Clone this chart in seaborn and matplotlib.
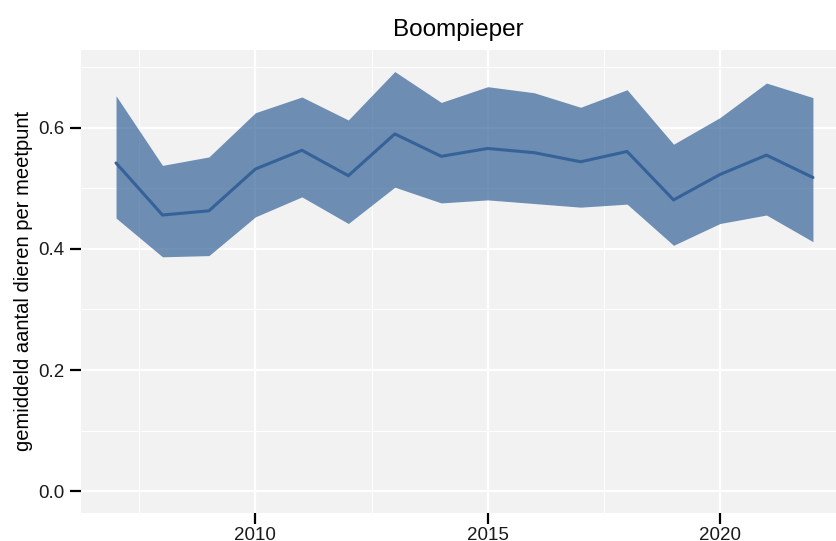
import numpy as np
import pandas as pd
import seaborn as sns
import matplotlib.pyplot as plt
from matplotlib.ticker import MultipleLocator

# jaarlijkse index Boompieper (gemiddelde + betrouwbaarheidsband)
jaren = [2007, 2008, 2009, 2010, 2011, 2012, 2013, 2014,
         2015, 2016, 2017, 2018, 2019, 2020, 2021, 2022]
gemiddeld = [0.542, 0.456, 0.463, 0.532, 0.563, 0.521, 0.590, 0.553,
             0.566, 0.559, 0.544, 0.561, 0.481, 0.523, 0.555, 0.518]
boven = [0.653, 0.538, 0.552, 0.625, 0.651, 0.613, 0.693, 0.642,
         0.668, 0.658, 0.634, 0.663, 0.573, 0.617, 0.674, 0.650]
onder = [0.451, 0.387, 0.389, 0.453, 0.486, 0.442, 0.502, 0.476,
         0.481, 0.475, 0.469, 0.474, 0.406, 0.442, 0.456, 0.412]

df = pd.DataFrame({'jaar': jaren, 'gem': gemiddeld, 'hoog': boven, 'laag': onder})

kleur = '#356298'

sns.set_theme(style='darkgrid', rc={
    'axes.facecolor': '#F2F2F2',
    'grid.color': 'white',
    'axes.edgecolor': '#F2F2F2',
    'text.color': 'black',
    'axes.labelcolor': 'black',
})
plt.rcParams['font.family'] = ['Liberation Sans', 'DejaVu Sans']

fig, ax = plt.subplots(figsize=(8.37, 5.41), dpi=100)
fig.subplots_adjust(left=0.097, right=0.999, top=0.908, bottom=0.052)

ax.fill_between(df['jaar'], df['laag'], df['hoog'], color=kleur, alpha=0.7,
                linewidth=0, zorder=2)
sns.lineplot(data=df, x='jaar', y='gem', color=kleur, linewidth=2.2, ax=ax, zorder=3)

ax.set_xlim(2006.25, 2022.5)
ax.set_ylim(-0.036, 0.729)
ax.xaxis.set_major_locator(MultipleLocator(5))
ax.xaxis.set_minor_locator(MultipleLocator(2.5))
ax.yaxis.set_major_locator(MultipleLocator(0.2))
ax.yaxis.set_minor_locator(MultipleLocator(0.1))
ax.yaxis.set_major_formatter(lambda v, p: f'{v:.1f}')

ax.grid(which='major', color='white', linewidth=1.6)
ax.grid(which='minor', color='white', linewidth=0.8)
ax.set_axisbelow(True)
for s in ax.spines.values():
    s.set_visible(False)

ax.tick_params(which='major', length=8, width=1.6, color='black', pad=4,
               labelsize=13.5, labelcolor='#1a1a1a', bottom=True, left=True)
ax.tick_params(axis='x', which='major', pad=2)
ax.tick_params(which='minor', length=0)

ax.set_xlabel('')
ax.set_ylabel('gemiddeld aantal dieren per meetpunt', fontsize=14.5, labelpad=4)
ax.set_title('Boompieper', fontsize=17.5, pad=10, color='black')

plt.savefig('out.png', dpi=100)
